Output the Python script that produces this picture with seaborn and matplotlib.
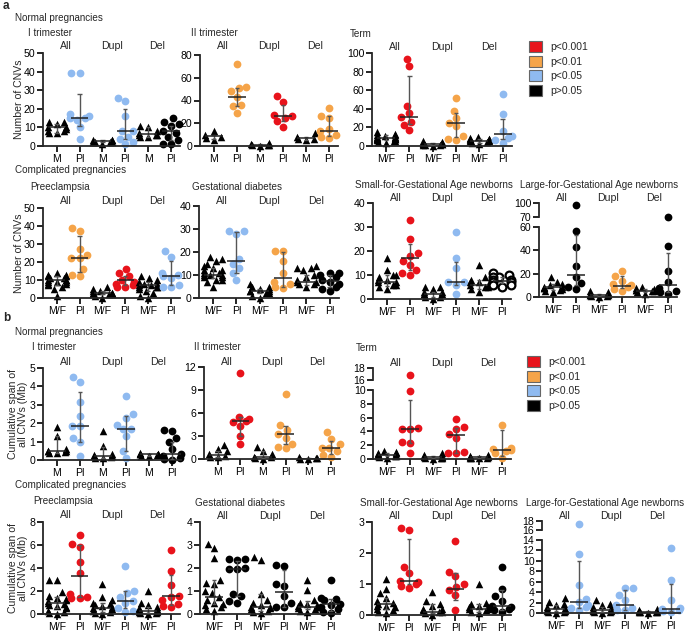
import warnings
import pandas as pd
import matplotlib
matplotlib.use("Agg")
import matplotlib.pyplot as plt
import seaborn as sns
from matplotlib.patches import Patch
from matplotlib.transforms import blended_transform_factory

warnings.filterwarnings("ignore")

groups = ["All", "Dupl", "Del"]
sig_colors = {"ns": "#000000", "p05": "#8fbaf0", "p01": "#f5a449", "p001": "#e8131b", "open": "#000000"}
legend_labels = ["p<0.001", "p<0.01", "p<0.05", "p>0.05"]
legend_keys = ["p001", "p01", "p05", "ns"]

# each panel: 6 groups (All M, All Pl, Dupl M, Dupl Pl, Del M, Del Pl)
# bars = (median, low, high)

# ---- a: number of CNVs ----
a_first_pts = [[13, 13, 12, 10, 9, 8, 8, 7, 7, 10], [39, 39, 17, 16, 15, 15, 14, 10, 4],
               [3, 3, 2, 2, 2, 3, 2, 1, 2], [26, 24, 16, 8, 8, 5, 4, 2, 1],
               [11, 10, 8, 7, 6, 6, 5, 5, 6], [15, 13, 12, 11, 8, 7, 5, 3, 1, 1]]
a_first_bars = [(10, 7, 12), (15, 11, 28), (2.5, 2, 3), (8, 4, 20), (6.5, 5, 10), (8, 3, 11)]
a_first_sig = ["ns", "p05", "ns", "p05", "ns", "ns"]

a_second_pts = [[13, 10, 8, 7, 5], [72, 52, 51, 48, 43, 36, 35, 29],
                [3, 2, 1, 1, 0, 1], [44, 39, 27, 26, 25, 22, 17],
                [11, 8, 6, 6, 5], [33, 26, 25, 15, 13, 10, 8, 7]]
a_second_bars = [(8.5, 6, 10), (43.5, 35, 51), (1, 0, 2), (26, 22, 36), (7, 5, 8), (13, 9, 26)]
a_second_sig = ["ns", "p01", "ns", "p001", "ns", "p01"]

a_term_pts = [[15, 13, 12, 11, 10, 10, 9, 8, 8, 7, 6, 5, 5, 4, 3, 12, 9, 7], [94, 86, 43, 35, 31, 26, 23, 17],
              [5, 4, 3, 3, 2, 2, 1, 1, 0, 2, 3, 1], [52, 38, 30, 25, 21, 11, 8, 6],
              [10, 9, 8, 7, 6, 5, 5, 4, 3, 2, 6, 7], [56, 34, 16, 11, 9, 6, 3]]
a_term_bars = [(9, 6, 12), (31, 24, 75), (2, 1, 3), (25, 10, 36), (5.5, 3, 8), (12.5, 7, 29)]
a_term_sig = ["ns", "p001", "ns", "p01", "ns", "p05"]

a_pe_pts = [[14, 13, 12, 12, 11, 10, 10, 10, 9, 9, 8, 8, 7, 6, 5, 1, 11, 9, 13], [39, 37, 27, 24, 22, 22, 16, 13, 12],
            [6, 5, 4, 4, 3, 3, 2, 2, 1, 0, 3, 2], [16, 14, 12, 10, 9, 8, 7, 6, 6],
            [12, 11, 10, 9, 8, 7, 7, 6, 6, 5, 4, 3, 1, 0, 8, 6], [26, 23, 14, 13, 12, 11, 7, 6, 6]]
a_pe_bars = [(10, 7, 12), (22, 14.5, 34.5), (3, 2, 4), (10, 7, 12), (7, 4, 9), (12.5, 7, 20.5)]
a_pe_sig = ["ns", "p01", "ns", "p001", "ns", "p05"]

a_gd_pts = [[18, 17, 16, 15, 14, 13, 12, 11, 11, 10, 10, 10, 9, 9, 8, 8, 7, 5, 12], [29, 29, 28, 17, 15, 13, 11, 8],
            [6, 5, 5, 4, 4, 3, 3, 2, 2, 1, 0, 3], [20.5, 20.5, 16, 11, 7, 6, 5, 4.5],
            [14, 13, 13, 12, 10, 9, 8, 7, 6, 6, 5, 7], [11, 11, 10, 9, 8, 7, 6, 5, 4, 3]]
a_gd_bars = [(10, 8.5, 13), (16, 11, 28.5), (3, 2, 4), (8.5, 5, 20), (7, 5.5, 10), (7.5, 5, 10)]
a_gd_sig = ["ns", "p05", "ns", "p01", "ns", "ns"]

a_sga_pts = [[17, 12, 10, 10, 9, 8, 8, 7, 7, 6, 6, 5, 4], [33, 25, 19, 18, 16, 14, 12, 11, 10],
             [5, 5, 4, 3, 3, 2, 2, 1, 1, 0, 2], [28, 17, 13, 7, 7, 6, 2],
             [14, 9, 8, 7, 6, 6, 5, 5, 4, 3, 7], [11, 10, 9, 9, 8, 8, 7, 7, 6, 6, 5]]
a_sga_bars = [(7, 5.5, 10), (17, 12, 23), (2, 1, 3), (7, 6, 15.5), (6, 4, 8), (7.5, 6.5, 9)]
a_sga_sig = ["ns", "p001", "ns", "p05", "ns", "open"]

a_lga_pts = [[17, 13, 11, 10, 9, 8, 8, 7, 6, 5, 4, 9], [95, 57, 43, 27, 17, 12, 9, 7],
             [5, 4, 3, 3, 2, 2, 1, 1, 0, 2], [22, 18, 14, 11, 10, 9, 7, 5],
             [9, 8, 7, 6, 6, 5, 5, 4, 3, 6], [70, 44, 22, 13, 8, 5, 4, 3]]
a_lga_bars = [(9, 6, 11), (19, 10, 53), (2, 1, 3), (9.5, 8, 18), (5, 4, 7), (10, 4, 38)]
a_lga_sig = ["ns", "ns", "ns", "p01", "ns", "ns"]

# ---- b: cumulative span of all CNVs (Mb) ----
b_first_pts = [[1.8, 1.3, 0.6, 0.5, 0.5, 0.4, 0.4, 0.5, 0.45], [4.5, 4.25, 3.15, 2.4, 1.85, 1.85, 1.2, 1.0, 0.2],
               [1.6, 0.75, 0.3, 0.2, 0.2, 0.15, 0.1, 0.1, 0.25], [3.5, 2.5, 2.3, 1.9, 1.7, 1.7, 1.3, 0.5, 0.1],
               [0.4, 0.35, 0.3, 0.3, 0.25, 0.2, 0.2, 0.3], [1.65, 1.55, 1.2, 1.0, 0.6, 0.3, 0.2, 0.1, 0.05, 0.0]]
b_first_bars = [(0.5, 0.4, 1.3), (1.85, 1.0, 3.7), (0.2, 0.1, 0.7), (1.7, 0.5, 2.4), (0.3, 0.2, 0.35), (0.3, 0.05, 1.0)]
b_first_sig = ["ns", "p05", "ns", "p05", "ns", "ns"]

b_second_pts = [[1.8, 1.3, 1.0, 0.6, 0.4, 0.2, 0.3], [11.2, 5.5, 5.2, 5.0, 4.8, 4.3, 3.0, 1.9],
                [1.6, 1.0, 0.6, 0.3, 0.2, 0.1, 0.0], [8.5, 4.4, 3.8, 3.3, 2.8, 2.0, 1.6, 1.4],
                [0.2, 0.1, 0.1, 0.05, 0.0], [3.5, 2.6, 1.9, 1.5, 1.4, 1.0, 0.5, 0.3]]
b_second_bars = [(0.5, 0.3, 1.0), (5.0, 3.0, 5.5), (0.3, 0.1, 1.0), (3.2, 1.9, 4.3), (0.05, 0.0, 0.1), (1.4, 0.6, 2.4)]
b_second_sig = ["ns", "p001", "ns", "p01", "ns", "p01"]

b_term_pts = [[1.2, 1.0, 0.9, 0.8, 0.7, 0.6, 0.5, 0.5, 0.4, 0.3, 0.2, 0.6], [16.8, 9.8, 4.5, 4.4, 4.3, 2.4, 2.3, 0.8],
              [0.8, 0.6, 0.5, 0.4, 0.3, 0.2, 0.2, 0.1, 0.0, 0.3], [5.8, 4.7, 4.4, 3.6, 3.0, 1.0, 0.9, 0.8],
              [0.6, 0.5, 0.4, 0.3, 0.2, 0.2, 0.1, 0.1, 0.3], [5.0, 1.6, 1.4, 1.3, 1.1, 0.8, 0.1]]
b_term_bars = [(0.65, 0.4, 0.9), (4.4, 2.3, 8.5), (0.25, 0.1, 0.45), (3.5, 0.9, 4.5), (0.25, 0.1, 0.4), (1.3, 0.4, 4.2)]
b_term_sig = ["ns", "p001", "ns", "p001", "ns", "p01"]

b_pe_pts = [[3.0, 3.0, 1.9, 1.6, 1.4, 1.2, 1.1, 1.0, 0.9, 0.8, 0.7, 0.6, 0.5, 0.3, 0.2, 0.1, 0.0, 1.3],
            [6.9, 6.1, 5.8, 4.5, 3.6, 1.7, 1.5, 1.4, 1.35],
            [2.6, 1.5, 1.2, 1.0, 0.9, 0.8, 0.6, 0.5, 0.4, 0.3, 0.2, 0.1, 0.0, 0.7], [4.2, 2.0, 1.8, 1.5, 1.1, 1.0, 0.5, 0.3, 0.2],
            [2.0, 1.0, 0.8, 0.6, 0.5, 0.4, 0.3, 0.3, 0.2, 0.2, 0.1, 0.1, 0.0, 0.4], [5.6, 3.7, 2.5, 1.6, 1.5, 1.2, 0.9, 0.7, 0.6]]
b_pe_bars = [(1.0, 0.5, 1.45), (3.3, 1.5, 6.0), (0.55, 0.2, 1.0), (1.1, 0.5, 2.0), (0.3, 0.1, 0.6), (1.55, 0.8, 3.4)]
b_pe_sig = ["ns", "p001", "ns", "p05", "ns", "p001"]

b_gd_pts = [[3.05, 2.85, 2.45, 1.5, 1.35, 1.3, 1.0, 0.9, 0.75, 0.6, 0.5, 0.45, 0.4, 0.3, 0.2, 0.15],
            [2.4, 2.4, 2.35, 2.0, 1.95, 1.95, 0.85, 0.8, 0.55, 0.5],
            [2.5, 2.35, 0.85, 0.6, 0.5, 0.4, 0.3, 0.25, 0.2, 0.15, 0.1, 0.05, 0.3], [2.15, 2.1, 1.3, 1.2, 0.8, 0.5, 0.3, 0.3],
            [1.5, 1.05, 0.6, 0.5, 0.45, 0.4, 0.35, 0.3, 0.25, 0.2, 0.15, 0.1, 0.3], [1.5, 0.7, 0.65, 0.6, 0.45, 0.4, 0.3, 0.2, 0.1, 0.05]]
b_gd_bars = [(0.75, 0.45, 1.5), (1.95, 0.8, 2.3), (0.3, 0.15, 0.85), (0.95, 0.3, 1.9), (0.32, 0.2, 0.55), (0.42, 0.15, 0.65)]
b_gd_sig = ["ns", "ns", "ns", "ns", "ns", "ns"]

b_sga_pts = [[1.15, 0.85, 0.7, 0.55, 0.45, 0.4, 0.35, 0.3, 0.3, 0.25, 0.2, 0.15, 0.1, 0.05],
             [2.8, 2.75, 1.55, 1.35, 1.1, 1.05, 1.0, 0.95, 0.88],
             [0.75, 0.45, 0.35, 0.3, 0.2, 0.15, 0.1, 0.1, 0.05, 0.0, 0.2], [2.4, 1.4, 1.25, 1.0, 0.9, 0.8, 0.65, 0.15],
             [1.0, 0.4, 0.35, 0.3, 0.25, 0.2, 0.2, 0.15, 0.1, 0.05, 0.25], [1.55, 0.85, 0.6, 0.45, 0.3, 0.25, 0.2, 0.15, 0.1]]
b_sga_bars = [(0.35, 0.2, 0.55), (1.1, 1.0, 2.45), (0.1, 0.05, 0.35), (0.85, 0.5, 1.35), (0.2, 0.1, 0.35), (0.28, 0.15, 0.8)]
b_sga_sig = ["ns", "p001", "ns", "p001", "ns", "ns"]

b_lga_pts = [[2.8, 2.2, 1.8, 1.5, 1.2, 1.0, 0.8, 0.6, 0.5, 0.4, 0.3, 0.2, 0.1, 0.0],
             [17.3, 11.3, 5.3, 2.7, 2.1, 1.5, 1.2, 1.0, 0.5],
             [2.4, 1.8, 1.5, 1.2, 1.0, 0.8, 0.6, 0.5, 0.4, 0.3, 0.2, 0.1, 0.0], [4.8, 4.8, 3.5, 2.5, 1.5, 1.0, 0.6, 0.5],
             [0.7, 0.5, 0.4, 0.3, 0.2, 0.2, 0.1, 0.1, 0.0], [12.5, 6.4, 2.5, 1.0, 0.8, 0.6, 0.4, 0.2]]
b_lga_bars = [(0.7, 0.3, 1.5), (2.1, 1.0, 9.9), (0.5, 0.2, 1.2), (1.6, 0.6, 4.4), (0.2, 0.1, 0.4), (0.8, 0.3, 5.5)]
b_lga_sig = ["ns", "p05", "ns", "p05", "ns", "p05"]

W, H = 685, 632
fig = plt.figure(figsize=(W / 100, H / 100), dpi=100)
sns.set_style("ticks")
plt.rcParams["font.family"] = ["Liberation Sans", "DejaVu Sans"]

keys = [f"{g} {k}" for g in groups for k in ("m", "pl")]
FS = 7.6
TS = 7.1


def add_ax(left, top, right, bottom):
    return fig.add_axes([left / W, 1 - bottom / H, (right - left) / W, (bottom - top) / H])


def draw_points(ax, pts, sig, lo=None, hi=None):
    for i, vals in enumerate(pts):
        vals = [v for v in vals if (lo is None or v >= lo) and (hi is None or v <= hi)]
        if not vals:
            continue
        df = pd.DataFrame({"grp": keys[i], "val": vals})
        marker = "^" if i % 2 == 0 else "o"
        sns.swarmplot(data=df, x="grp", y="val", order=keys, color=sig_colors[sig[i]],
                      marker=marker, size=5.6 if marker == "o" else 5.4, linewidth=0,
                      ax=ax, zorder=2, clip_on=False)
        if sig[i] == "open":
            coll = ax.collections[-1]
            coll.set_facecolor("white")
            coll.set_edgecolor("black")
            coll.set_linewidth(1.6)


def draw_bars(ax, bars):
    for i, (med, lo, hi) in enumerate(bars):
        ax.vlines(i, lo, hi, color="#555555", lw=1.0, zorder=3)
        ax.hlines([lo, hi], i - 0.1, i + 0.1, color="#555555", lw=1.0, zorder=3)
        ax.hlines(med, i - 0.38, i + 0.38, color="#222222", lw=1.1, zorder=3)


def style(ax, yticks, ylim, xaxis=True):
    ax.set_xlim(-0.6, 5.4)
    ax.set_ylim(*ylim)
    ax.set_yticks(yticks)
    ax.set_yticklabels([str(t) for t in yticks])
    ax.set_xlabel("")
    ax.set_ylabel("")
    ax.patch.set_alpha(0)
    ax.spines["top"].set_visible(False)
    ax.spines["right"].set_visible(False)
    ax.spines["left"].set_linewidth(1.3)
    ax.spines["bottom"].set_linewidth(1.3)
    ax.tick_params(direction="out", length=4, width=1.2, labelsize=FS, pad=1.5, colors="black")
    if not xaxis:
        ax.spines["bottom"].set_visible(False)
        ax.set_xticks([])


def panel(pts, bars, sig, box, yticks, low, title, title_xy, grp_y, ylabel=None, broken=None):
    left, top, right, bottom = box
    if broken is None:
        ax = add_ax(left, top, right, bottom)
        draw_points(ax, pts, sig)
        style(ax, yticks, (yticks[0], yticks[-1]))
    else:
        lo_top, up_top, up_bot, up_ticks = broken
        ax = add_ax(left, lo_top, right, bottom)
        draw_points(ax, pts, sig, hi=yticks[-1])
        style(ax, yticks, (yticks[0], yticks[-1]))
        ax_up = add_ax(left, up_top, right, up_bot)
        draw_points(ax_up, pts, sig, lo=up_ticks[0] - 2)
        style(ax_up, up_ticks, (up_ticks[0], up_ticks[-1]), xaxis=False)
    draw_bars(ax, bars)
    ax.set_xticks(range(6))
    ax.set_xticklabels([low, "Pl"] * 3)
    if ylabel:
        edge = 28 if "\n" in ylabel else 24
        ax.set_ylabel(ylabel, fontsize=FS, linespacing=1.05)
        ax.yaxis.set_label_coords((edge - left) / (right - left), 0.5)
    fig.text(title_xy[0] / W, 1 - title_xy[1] / H, title, fontsize=TS, va="center")
    tr = blended_transform_factory(ax.transData, fig.transFigure)
    for j, g in enumerate(groups):
        ax.text(2 * j + 0.4, 1 - grp_y / H, g, transform=tr, ha="center", va="center", fontsize=FS)


# ---- a ----
fig.text(3 / W, 1 - 6 / H, "a", fontsize=8.5, fontweight="bold", va="center")
fig.text(15 / W, 1 - 18 / H, "Normal pregnancies", fontsize=TS, va="center")
panel(a_first_pts, a_first_bars, a_first_sig, (43, 53, 180, 146), [0, 10, 20, 30, 40, 50], "M",
      "I trimester", (28, 33), 46, ylabel="Number of CNVs")
panel(a_second_pts, a_second_bars, a_second_sig, (200, 55, 338, 146), [0, 20, 40, 60, 80], "M",
      "II trimester", (191, 33), 46)
panel(a_term_pts, a_term_bars, a_term_sig, (372, 53, 512, 146), [0, 20, 40, 60, 80, 100], "M/F",
      "Term", (350, 34), 47)

fig.text(15 / W, 1 - 170 / H, "Complicated pregnancies", fontsize=TS, va="center")
panel(a_pe_pts, a_pe_bars, a_pe_sig, (43, 208, 180, 298), [0, 10, 20, 30, 40, 50], "M/F",
      "Preeclampsia", (30, 187), 201, ylabel="Number of CNVs")
panel(a_gd_pts, a_gd_bars, a_gd_sig, (199, 206, 339, 298), [0, 10, 20, 30, 40], "M/F",
      "Gestational diabetes", (192, 187), 201)
panel(a_sga_pts, a_sga_bars, a_sga_sig, (373, 203, 511, 299), [0, 10, 20, 30, 40], "M/F",
      "Small-for-Gestational Age newborns", (355, 185), 198)
panel(a_lga_pts, a_lga_bars, a_lga_sig, (539, 203, 677, 297), [0, 20, 40, 60], "M/F",
      "Large-for-Gestational Age newborns", (520, 185), 198, broken=(227, 203, 217, [70, 100]))

# ---- b ----
fig.text(3 / W, 1 - 318 / H, "b", fontsize=8.5, fontweight="bold", va="center")
fig.text(15 / W, 1 - 332 / H, "Normal pregnancies", fontsize=TS, va="center")
span_label = "Cumulative span of\nall CNVs (Mb)"
panel(b_first_pts, b_first_bars, b_first_sig, (43, 368, 181, 460), [0, 1, 2, 3, 4, 5], "M",
      "I trimester", (32, 347), 362, ylabel=span_label)
panel(b_second_pts, b_second_bars, b_second_sig, (204, 367, 340, 459), [0, 3, 6, 9, 12], "M",
      "II trimester", (194, 347), 362)
panel(b_term_pts, b_term_bars, b_term_sig, (373, 390, 511, 459), [0, 2, 4, 6, 8, 10], "M/F",
      "Term", (356, 348), 363, broken=(390, 368, 380, [16, 18]))

fig.text(15 / W, 1 - 485 / H, "Complicated pregnancies", fontsize=TS, va="center")
panel(b_pe_pts, b_pe_bars, b_pe_sig, (43, 522, 180, 614), [0, 2, 4, 6, 8], "M/F",
      "Preeclampsia", (33, 501), 515, ylabel=span_label)
panel(b_gd_pts, b_gd_bars, b_gd_sig, (200, 522, 340, 614), [0, 1, 2, 3, 4], "M/F",
      "Gestational diabetes", (195, 503), 516)
panel(b_sga_pts, b_sga_bars, b_sga_sig, (372, 522, 511, 615), [0, 1, 2, 3], "M/F",
      "Small-for-Gestational Age newborns", (360, 503), 516)
panel(b_lga_pts, b_lga_bars, b_lga_sig, (542, 540, 680, 613), [0, 2, 4, 6, 8, 10, 12, 14], "M/F",
      "Large-for-Gestational Age newborns", (526, 503), 516, broken=(540, 521, 530, [16, 18]))

# legends
handles = [Patch(facecolor=sig_colors[k], edgecolor="#666666", linewidth=0.8) for k in legend_keys]
for lx, ly in [(529, 41), (527, 356)]:
    fig.legend(handles=handles, labels=legend_labels, loc="upper left",
               bbox_to_anchor=(lx / W, 1 - ly / H), frameon=False, fontsize=7.5,
               handlelength=1.25, handleheight=1.25, labelspacing=0.35, handletextpad=0.8,
               borderaxespad=0, borderpad=0)

fig.savefig("out.png", dpi=100)
